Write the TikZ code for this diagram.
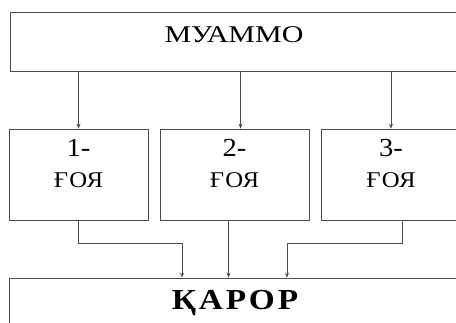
\documentclass[tikz,border=0pt]{standalone}
\usepackage{fontspec}
\setmainfont{Liberation Serif}
\usetikzlibrary{arrows.meta,positioning}

\begin{document}
\begin{tikzpicture}[x=1pt,y=-1pt,>={Stealth[length=5pt,width=4pt]},
  box/.style={draw=black!70,line width=0.7pt,rectangle,inner sep=0pt,align=center},
  idea/.style={box,minimum width=#1,minimum height=91pt,text depth=23pt,
    font=\fontsize{22.5}{31}\selectfont\addfontfeature{FakeStretch=1.1,LetterSpace=5}},
  link/.style={draw=black!70,line width=0.7pt}]
\useasboundingbox (0,0) rectangle (456,323);
\clip (0,0) rectangle (456,323);
% problem
\node[box,minimum width=448pt,minimum height=59pt,text height=16pt,text depth=13pt,
  font=\fontsize{24}{28}\selectfont\addfontfeature{FakeStretch=1.25}] (problem) at (234,41.5) {МУАММО};
% ideas
\node[idea=139pt] (idea1) at (78.5,174.5) {{\fontsize{26}{31}\selectfont\addfontfeature{LetterSpace=0} 1-}\\ҒОЯ};
\node[idea=149pt] (idea2) at (234.5,174.5) {{\fontsize{26}{31}\selectfont\addfontfeature{LetterSpace=0} 2-}\\ҒОЯ};
\node[idea=140pt] (idea3) at (391,174.5) {{\fontsize{26}{31}\selectfont\addfontfeature{LetterSpace=0} 3-}\\ҒОЯ};
% decision
\node[box,minimum width=452pt,minimum height=50pt,text height=20pt,text depth=6pt,
  font=\bfseries\fontsize{29}{32}\selectfont\addfontfeature{FakeStretch=1.15,LetterSpace=10}] (decision) at (235,303) {ҚАРОР};
% problem -> ideas
\draw[link,->] (problem.south -| idea1) -- (idea1);
\draw[link,->] ([xshift=6pt]idea2.north |- problem.south) -- ([xshift=6pt]idea2.north);
\draw[link,->] (problem.south -| idea3) -- (idea3);
% ideas -> decision
\coordinate (j1) at (182,243);
\coordinate (j3) at (287,243);
\draw[link,->] ([xshift=-0.5pt]idea1.south) |- (j1) -- (j1 |- decision.north);
\draw[link,->] ([xshift=-6pt]idea2.south) -- ([xshift=-6pt]idea2.south |- decision.north);
\draw[link,->] ([xshift=11pt]idea3.south) |- (j3) -- (j3 |- decision.north);
\end{tikzpicture}
\end{document}
